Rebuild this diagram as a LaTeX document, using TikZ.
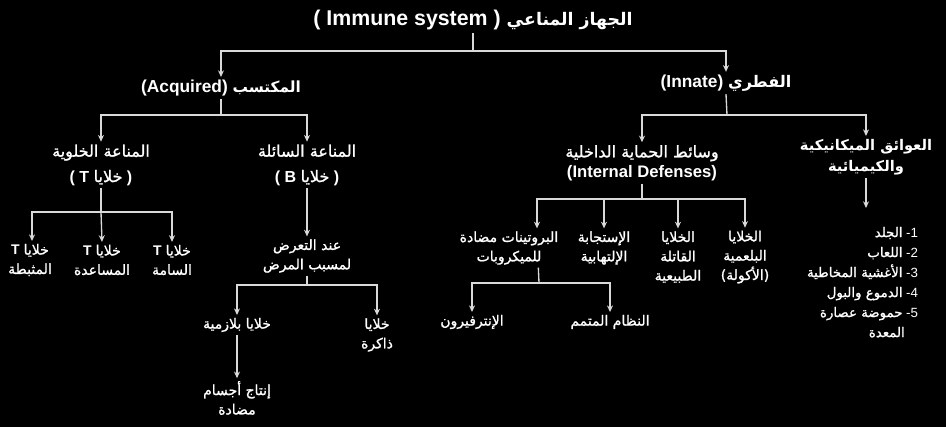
\documentclass[tikz,border=0pt]{standalone}
\usepackage{fontspec}
\setmainfont{Liberation Sans}
\newfontfamily\arabicfont[Script=Arabic, FakeBold=1.2]{DejaVu Sans}
\newfontfamily\arabicbold[Script=Arabic]{DejaVu Sans Bold}
\TeXXeTstate=1
\newcommand{\artxt}[1]{{\arabicfont\beginR #1\endR}}
\newcommand{\arbold}[1]{{\arabicbold\beginR #1\endR}}
\usetikzlibrary{arrows.meta, positioning, calc}

\begin{document}
\begin{tikzpicture}[
    x=0.75pt, y=-0.75pt,
    every node/.style={text=white, inner sep=2pt},
    head/.style={font=\bfseries\fontsize{16}{18}\selectfont},
    branch/.style={font=\bfseries\fontsize{13}{15}\selectfont},
    group/.style={align=center, font=\fontsize{12}{15}\selectfont},
    leaf/.style={align=center, font=\fontsize{10.5}{14.5}\selectfont},
    line/.style={draw=white!85!black, line width=1pt},
    arrow/.style={line, -{Stealth[length=5pt, width=4.5pt]}}
]

    \fill[black] (0,0) rectangle (946,427);
    \useasboundingbox (0,0) rectangle (946,427);

    % top levels
    \node [head] (immune) at (473,20) {( Immune system ) {\fontsize{13}{16}\selectfont\arbold{الجهاز المناعي}}};
    \node [branch] (acquired) at (221,88) {(Acquired) {\fontsize{11.5}{15}\selectfont\arbold{المكتسب}}};
    \node [branch] (innate) at (726,83) {(Innate) {\fontsize{12}{15}\selectfont\arbold{الفطري}}};

    \coordinate (topbar) at (473,51);
    \draw [line] (immune.south) -- (topbar);
    \draw [arrow] (topbar) -| (acquired.north);
    \draw [arrow] (topbar) -| (innate.north);

    % second level
    \node [group] (cellular) at (101,165) {\artxt{المناعة الخلوية}\\[4pt] \textbf{( T} \artxt{خلايا} \textbf{)}};
    \node [group] (humoral) at (307,165) {\artxt{المناعة السائلة}\\[4pt] \textbf{( B} \artxt{خلايا} \textbf{)}};
    \node [group] (internal) at (642,163) {\artxt{وسائط الحماية الداخلية}\\ \textbf{\fontsize{12.5}{15}\selectfont(Internal Defenses)}};
    \node [group, font=\fontsize{11}{16}\selectfont] (barriers) at (866,157) {\arbold{العوائق الميكانيكية}\\ \arbold{والكيميائية}};

    \coordinate (acqbar) at (221,115);
    \draw [line] (acquired.south) -- (acqbar);
    \draw [arrow] (acqbar) -| (cellular.north);
    \draw [arrow] (acqbar) -| (humoral.north);

    \coordinate (innbar) at (727,115);
    \draw [line] (innate.south) -- (innbar);
    \draw [arrow] (innbar) -| (internal.north);
    \draw [arrow] (innbar) -| (barriers.north);

    % cell mediated
    \node [leaf] (suppressor) at (30,260) {\textbf{T} \artxt{خلايا}\\ \artxt{المثبطة}};
    \node [leaf] (helper) at (102,260) {\textbf{T} \artxt{خلايا}\\ \artxt{المساعدة}};
    \node [leaf] (cytotoxic) at (172,260) {\textbf{T} \artxt{خلايا}\\ \artxt{السامة}};

    \coordinate (cellbar) at (101,212);
    \draw [line] (cellular.south) -- (cellbar);
    \draw [arrow] (cellbar) -| ([xshift=1.5pt]suppressor.north);
    \draw [arrow] (cellbar) -- (helper.north);
    \draw [arrow] (cellbar) -| (cytotoxic.north);

    % humoral
    \node [leaf] (exposure) at (307,256) {\artxt{عند التعرض}\\ \artxt{لمسبب المرض}};
    \node [leaf] (plasma) at (237,325) {\artxt{خلايا بلازمية}};
    \node [leaf] (memory) at (377,335) {\artxt{خلايا}\\ \artxt{ذاكرة}};
    \node [leaf] (antibody) at (237,398) {\artxt{إنتاج أجسام}\\ \artxt{مضادة}};

    \draw [arrow] (humoral.south) -- (exposure.north);
    \coordinate (humbar) at (307,285);
    \draw [line] (exposure.south) -- (humbar);
    \draw [arrow] (humbar) -| (plasma.north);
    \draw [arrow] (humbar) -| (memory.north);
    \draw [arrow] (plasma.south) -- (antibody.north);

    % internal defenses
    \node [leaf] (proteins) at (509,248) {\artxt{البروتينات مضادة}\\ \artxt{للميكروبات}};
    \node [leaf] (inflam) at (604,248) {\artxt{الإستجابة}\\ \artxt{الإلتهابية}};
    \node [leaf] (killer) at (678,257) {\artxt{الخلايا}\\ \artxt{القاتلة}\\ \artxt{الطبيعية}};
    \node [leaf] (phago) at (745,257) {\artxt{الخلايا}\\ \artxt{البلعمية}\\ \artxt{(الأكولة)}};

    \coordinate (intbar) at (642,199);
    \draw [line] (internal.south) -- (intbar);
    \draw [arrow] (intbar) -| ([xshift=21pt]proteins.north);
    \draw [arrow] (intbar) -| (inflam.north);
    \draw [arrow] (intbar) -| (killer.north);
    \draw [arrow] (intbar) -| (phago.north);

    \node [leaf] (interferon) at (472,322) {\artxt{الإنترفيرون}};
    \node [leaf] (complement) at (610,322) {\artxt{النظام المتمم}};

    \coordinate (protbar) at (539,283);
    \draw [line] ([xshift=22pt]proteins.south) -- (protbar);
    \draw [arrow] (protbar) -| (interferon.north);
    \draw [arrow] (protbar) -| (complement.north);

    % barriers list
    \node [leaf, align=right, anchor=north east, font=\fontsize{10}{15}\selectfont] (barrierlist) at (921,224)
        {\artxt{الجلد} -1\\ \artxt{اللعاب} -2\\ \artxt{الأغشية المخاطية} -3\\ \artxt{الدموع والبول} -4\\ \artxt{حموضة عصارة} -5\\ \artxt{المعدة}\hspace*{10pt}};
    \draw [arrow, shorten >=12pt] (barriers.south) -- (barriers.south |- barrierlist.north);

\end{tikzpicture}
\end{document}
